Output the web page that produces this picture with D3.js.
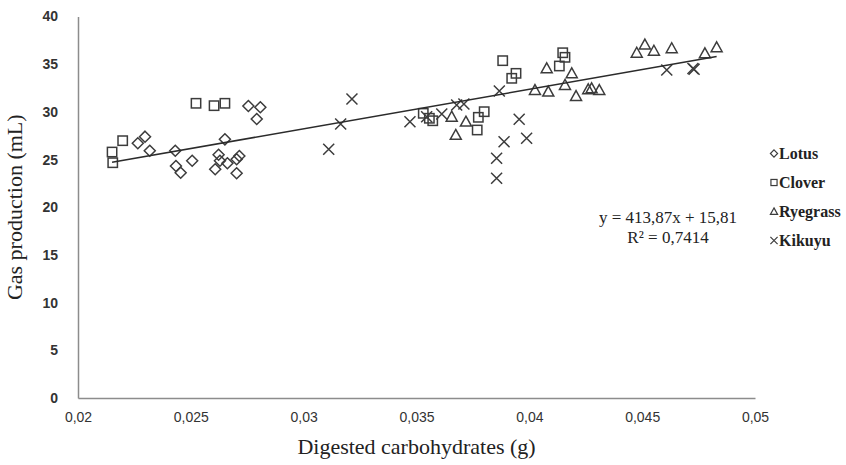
<!DOCTYPE html>
<html>
<head>
<meta charset="utf-8">
<script src="https://cdn.jsdelivr.net/npm/d3@7"></script>
<style>
	body { margin: 0; background: #fff; }
	svg { font-family: "Liberation Serif", "Times New Roman", serif; }
	.tick text { fill: #333; font-size: 14px; }
	.mark { fill: none; stroke: #3c3c3c; stroke-width: 1.5; }
</style>
</head>
<body>
<svg class="chart" width="846" height="465"></svg>
<script>
// data: [digested carbohydrates (g), gas production (mL)]
var lotus = [
	[0.02755, 30.62], [0.02808, 30.48], [0.02792, 29.25], [0.02297, 27.40],
	[0.02265, 26.71], [0.02318, 25.93], [0.02431, 25.93], [0.02434, 24.32],
	[0.02455, 23.62], [0.02506, 24.88], [0.02651, 27.12], [0.02623, 25.51],
	[0.02629, 24.88], [0.02608, 23.98], [0.02662, 24.61], [0.02703, 25.03],
	[0.02715, 25.37], [0.02703, 23.56]
];
var clover = [
	[0.02151, 25.79], [0.02154, 24.67], [0.02198, 26.98], [0.02523, 30.90],
	[0.02603, 30.65], [0.02651, 30.90], [0.03530, 29.85], [0.03557, 29.33],
	[0.03572, 29.07], [0.03769, 28.10], [0.03774, 29.43], [0.03800, 30.02],
	[0.03882, 35.37], [0.03922, 33.52], [0.03941, 34.04], [0.04133, 34.81],
	[0.04148, 36.20], [0.04158, 35.72]
];
var ryegrass = [
	[0.03656, 29.49], [0.03719, 28.97], [0.03674, 27.58], [0.04025, 32.29],
	[0.04084, 32.12], [0.04077, 34.57], [0.04158, 32.82], [0.04188, 34.04],
	[0.04207, 31.66], [0.04261, 32.37], [0.04276, 32.47], [0.04310, 32.29],
	[0.04476, 36.20], [0.04512, 37.06], [0.04552, 36.41], [0.04631, 36.67],
	[0.04778, 36.14], [0.04830, 36.77]
];
var kikuyu = [
	[0.03111, 26.08], [0.03164, 28.73], [0.03214, 31.35], [0.03471, 28.97],
	[0.03545, 29.49], [0.03612, 29.78], [0.03678, 30.72], [0.03710, 30.83],
	[0.03867, 32.19], [0.03955, 29.22], [0.03888, 26.87], [0.03855, 25.13],
	[0.03855, 23.04], [0.03988, 27.23], [0.04609, 34.39], [0.04730, 34.46],
	[0.04725, 34.55]
];

var seriesNames = ["Lotus", "Clover", "Ryegrass", "Kikuyu"];
var seriesData = [lotus, clover, ryegrass, kikuyu];
var seriesShapes = ["diamond", "square", "triangle", "cross"];

var xTicks = [0.02, 0.025, 0.03, 0.035, 0.04, 0.045, 0.05];
var yTicks = [0, 5, 10, 15, 20, 25, 30, 35, 40];

// linear trend line as printed on the chart
var trendSlope = 413.87, trendIntercept = 15.81;
var trendLabel = ["y = 413,87x  + 15,81", "R² = 0,7414"];

var xTitle = "Digested carbohydrates (g)",
	yTitle = "Gas production (mL)";

var margin = {top: 16.5, right: 91, bottom: 67, left: 78},
	width = 846 - margin.left - margin.right,
	height = 465 - margin.top - margin.bottom;

var svg = d3.select(".chart")
	.append("g")
		.attr("transform", "translate(" + margin.left + "," + margin.top + ")");

var x = d3.scaleLinear().domain([0.02, 0.05]).range([0, width]);
var y = d3.scaleLinear().domain([0, 40]).range([height, 0]);

// comma as decimal separator
var fmt = d3.formatLocale({decimal: ",", thousands: ".", grouping: [3], currency: ["", ""]}).format("~g");

// axes
var xAxis = svg.append("g")
	.attr("transform", "translate(0," + height + ")")
	.call(d3.axisBottom(x).tickValues(xTicks).tickFormat(fmt).tickSize(0).tickPadding(14));
var yAxis = svg.append("g")
	.call(d3.axisLeft(y).tickValues(yTicks).tickSize(0).tickPadding(20));

svg.selectAll(".domain").attr("stroke", "#8c8c8c").attr("stroke-width", 1.5);
svg.selectAll(".tick text").attr("font-family", null).attr("font-size", null);
yAxis.selectAll(".tick text").style("font-weight", "bold");

// axis titles
svg.append("text")
	.attr("x", width / 2)
	.attr("y", height + 56)
	.attr("text-anchor", "middle")
	.attr("font-size", 22)
	.attr("fill", "#222")
	.text(xTitle);

svg.append("text")
	.attr("transform", "translate(" + (-56) + "," + (height / 2) + ") rotate(-90)")
	.attr("text-anchor", "middle")
	.attr("font-size", 22)
	.attr("fill", "#222")
	.text(yTitle);

// marker shapes
function drawMark(g, shape, r) {
	if (shape == "diamond") {
		g.append("path").attr("class", "mark")
			.attr("d", "M0," + (-r) + "L" + r + ",0L0," + r + "L" + (-r) + ",0Z");
	} else if (shape == "square") {
		g.append("rect").attr("class", "mark")
			.attr("x", -r * 0.85).attr("y", -r * 0.85)
			.attr("width", r * 1.7).attr("height", r * 1.7);
	} else if (shape == "triangle") {
		g.append("path").attr("class", "mark")
			.attr("d", "M0," + (-r) + "L" + r + "," + (r * 0.8) + "L" + (-r) + "," + (r * 0.8) + "Z");
	} else {
		g.append("path").attr("class", "mark")
			.attr("d", "M" + (-r) + "," + (-r) + "L" + r + "," + r + "M" + r + "," + (-r) + "L" + (-r) + "," + r);
	}
}

// scatter points
seriesData.forEach(function(data, s) {
	svg.append("g").selectAll(".pt")
		.data(data)
		.enter().append("g")
			.attr("class", "pt")
			.attr("transform", function(d) { return "translate(" + x(d[0]) + "," + y(d[1]) + ")"; })
			.each(function() { drawMark(d3.select(this), seriesShapes[s], 5.5); });
});

// trend line over the range of all points
var allX = [].concat(lotus, clover, ryegrass, kikuyu).map(function(d) { return d[0]; });
var xMin = d3.min(allX), xMax = d3.max(allX);
svg.append("line")
	.attr("x1", x(xMin)).attr("y1", y(trendSlope * xMin + trendIntercept))
	.attr("x2", x(xMax)).attr("y2", y(trendSlope * xMax + trendIntercept))
	.attr("stroke", "#2b2b2b")
	.attr("stroke-width", 1.5);

// equation label
svg.selectAll(".eq")
	.data(trendLabel)
	.enter().append("text")
		.attr("class", "eq")
		.attr("x", 590)
		.attr("y", function(d, i) { return 206 + i * 20; })
		.attr("text-anchor", "middle")
		.attr("font-size", 17)
		.attr("fill", "#222")
		.text(function(d) { return d; });

// legend
var legend = svg.append("g")
	.attr("transform", "translate(" + (width + 19) + ",137)");

var item = legend.selectAll(".legend")
	.data(seriesNames)
	.enter().append("g")
		.attr("class", "legend")
		.attr("transform", function(d, i) { return "translate(0," + i * 29 + ")"; });

item.each(function(d, i) { drawMark(d3.select(this), seriesShapes[i], 3.6); });
item.select(".mark").style("stroke-width", 1.2);

item.append("text")
	.attr("x", 5)
	.attr("y", 0)
	.attr("dy", ".35em")
	.attr("font-size", 16)
	.attr("fill", "#222")
	.style("font-weight", "bold")
	.text(function(d) { return d; });
</script>
</body>
</html>
